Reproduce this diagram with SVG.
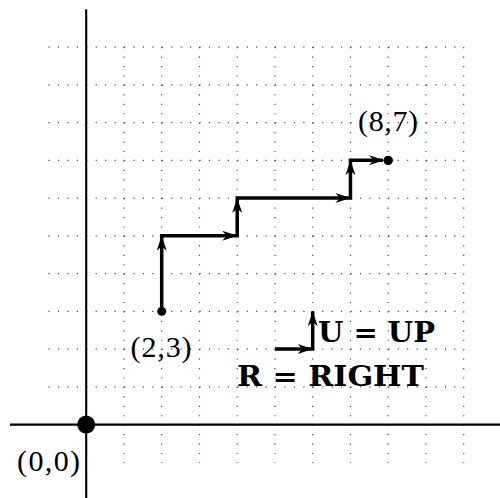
<svg xmlns="http://www.w3.org/2000/svg" xmlns:xlink="http://www.w3.org/1999/xlink" width="500" height="498" viewBox="0 0 500 498">
<style>
.grid line{stroke:#444;stroke-width:1.2;stroke-dasharray:1.2 8.2375;fill:none}
.axis{stroke:#000;stroke-width:2.1;fill:none}
.walk{stroke:#000;stroke-width:3.5;fill:none;stroke-linejoin:miter}
.lbl{font-family:"Liberation Serif","DejaVu Serif",serif;font-size:30px;fill:#000}
.bold{font-family:"DejaVu Serif","Liberation Serif",serif;font-weight:bold;font-size:28px;fill:#000}
</style>
<defs>
<path id="ah" d="M0,0 L-15,-5 L-10.5,0 L-15,5 Z" fill="#000"/>
</defs>
<rect width="500" height="498" fill="#fff"/>
<g id="grid" class="grid">
<line x1="48.45" y1="386.85" x2="463.7" y2="386.85"/>
<line x1="48.45" y1="349.1" x2="463.7" y2="349.1"/>
<line x1="48.45" y1="311.35" x2="463.7" y2="311.35"/>
<line x1="48.45" y1="273.6" x2="463.7" y2="273.6"/>
<line x1="48.45" y1="235.85" x2="463.7" y2="235.85"/>
<line x1="48.45" y1="198.1" x2="463.7" y2="198.1"/>
<line x1="48.45" y1="160.35" x2="463.7" y2="160.35"/>
<line x1="48.45" y1="122.6" x2="463.7" y2="122.6"/>
<line x1="48.45" y1="84.85" x2="463.7" y2="84.85"/>
<line x1="48.45" y1="47.1" x2="463.7" y2="47.1"/>
<line x1="123.95" y1="47.1" x2="123.95" y2="463"/>
<line x1="161.7" y1="47.1" x2="161.7" y2="463"/>
<line x1="199.45" y1="47.1" x2="199.45" y2="463"/>
<line x1="237.2" y1="47.1" x2="237.2" y2="463"/>
<line x1="274.95" y1="47.1" x2="274.95" y2="463"/>
<line x1="312.7" y1="47.1" x2="312.7" y2="463"/>
<line x1="350.45" y1="47.1" x2="350.45" y2="463"/>
<line x1="388.2" y1="47.1" x2="388.2" y2="463"/>
<line x1="425.95" y1="47.1" x2="425.95" y2="463"/>
<line x1="463.7" y1="47.1" x2="463.7" y2="463"/>
</g>
<g id="axes">
<line class="axis" x1="86.2" y1="9.3" x2="86.2" y2="498"/>
<line class="axis" x1="10" y1="424.6" x2="500" y2="424.6"/>
<circle id="origin" cx="86.2" cy="424.6" r="9" fill="#000"/>
</g>
<g id="connectors">
<path class="walk" d="M161.7,311.35 V235.85 H237.2 V198.1 H350.45 V160.35 H383"/>
<use xlink:href="#ah" transform="translate(161.7,235.85) rotate(-90)"/>
<use xlink:href="#ah" transform="translate(237.2,235.85)"/>
<use xlink:href="#ah" transform="translate(237.2,198.1) rotate(-90)"/>
<use xlink:href="#ah" transform="translate(350.45,198.1)"/>
<use xlink:href="#ah" transform="translate(350.45,160.35) rotate(-90)"/>
<use xlink:href="#ah" transform="translate(384,160.35)"/>
<path class="walk" d="M274.95,349.1 H312.7 V311.35"/>
<use xlink:href="#ah" transform="translate(312.7,349.1)"/>
<use xlink:href="#ah" transform="translate(312.7,311.35) rotate(-90)"/>
</g>
<g id="start">
<circle cx="161.7" cy="311.35" r="4.5" fill="#000"/>
<text class="lbl" x="161" y="357" text-anchor="middle" textLength="61" lengthAdjust="spacing">(2,3)</text>
</g>
<g id="end">
<circle cx="388.2" cy="160.35" r="4.7" fill="#000"/>
<text class="lbl" x="388" y="131" text-anchor="middle" textLength="60" lengthAdjust="spacing">(8,7)</text>
</g>
<g id="origin-label">
<text class="lbl" x="48.5" y="471" text-anchor="middle" textLength="63" lengthAdjust="spacing">(0,0)</text>
</g>
<g id="legend">
<text class="bold" x="318" y="342" textLength="117" lengthAdjust="spacingAndGlyphs">U = UP</text>
<text class="bold" x="237" y="386" textLength="187" lengthAdjust="spacingAndGlyphs">R = RIGHT</text>
</g>
</svg>
